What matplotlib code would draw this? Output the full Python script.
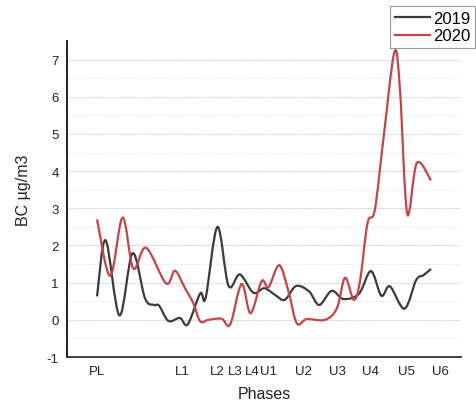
import numpy as np
import matplotlib.pyplot as plt
from matplotlib.path import Path
from matplotlib.patches import PathPatch
from matplotlib.lines import Line2D

plt.rcParams['font.family'] = ['Liberation Sans', 'DejaVu Sans']
plt.rcParams['axes.unicode_minus'] = False

# --- data (x = position along phases axis) ---
x2019 = [0, 2.5, 6.5, 10.3, 13.9, 16.5, 18, 20.7, 24, 26.3, 29.9, 31.5, 34.9,
         38.1, 41.4, 45.3, 48.5, 51.6, 54.4, 57.7, 61.5, 64.4, 68, 71.4, 75.9,
         79.4, 82.4, 84.9, 89.1, 92.5, 94.6, 96.8]
bc2019 = [0.63, 2.14, 0.12, 1.79, 0.58, 0.40, 0.38, -0.03, 0.05, -0.12, 0.71,
          0.60, 2.50, 0.92, 1.22, 0.73, 0.85, 0.67, 0.54, 0.91, 0.76, 0.40,
          0.78, 0.56, 0.70, 1.31, 0.65, 0.90, 0.30, 1.07, 1.20, 1.37]

x2020 = [0, 3.8, 7.4, 10.5, 14.2, 20.0, 22.6, 25.5, 27.9, 29.9, 32.3, 36.1,
         38.6, 41.9, 44.5, 47.7, 49.7, 52.8, 55.4, 57.9, 60.8, 66.1, 69.5,
         71.9, 74.4, 76.2, 78.4, 80.5, 83, 86.2, 87.8, 89.9, 92.7, 96.8]
bc2020 = [2.70, 1.18, 2.75, 1.38, 1.94, 0.98, 1.32, 0.85, 0.45, -0.04, 0.0,
          0.03, -0.12, 0.96, 0.18, 1.04, 0.88, 1.47, 0.80, -0.09, 0.02, 0.0,
          0.31, 1.13, 0.54, 1.03, 2.60, 2.95, 4.86, 7.20, 6.20, 2.86, 4.22, 3.75]

phase_pos = [0, 24.6, 34.8, 40, 45, 49.7, 59.7, 69.6, 79.3, 89.6, 99.4]
phase_lbl = ['PL', 'L1', 'L2', 'L3', 'L4', 'U1', 'U2', 'U3', 'U4', 'U5', 'U6']


#--- smoothed line through the points (bezier, like a spreadsheet "smooth line")
def smooth_path(xs, ys):
    p = np.column_stack([xs, ys]).astype(float)
    verts = [p[0]]
    codes = [Path.MOVETO]
    n = len(p)
    for i in range(n - 1):
        p0 = p[i - 1] if i > 0 else p[i]
        p1 = p[i]
        p2 = p[i + 1]
        p3 = p[i + 2] if i + 2 < n else p[i + 1]
        verts += [p1 + (p2 - p0) / 6.0, p2 - (p3 - p1) / 6.0, p2]
        codes += [Path.CURVE4] * 3
    return Path(verts, codes)


fig = plt.figure(figsize=(4.77, 4.10), dpi=100)
ax = fig.add_axes([0.1405, 0.1268, 0.826, 0.7708])

c19 = '#3b3b3b'
c20 = '#c9424a'
ax.add_patch(PathPatch(smooth_path(x2019, bc2019), fill=False, edgecolor=c19, lw=1.6, zorder=3))
ax.add_patch(PathPatch(smooth_path(x2020, bc2020), fill=False, edgecolor=c20, lw=1.6, zorder=3))

ax.set_xlim(-8.7, 105.5)
ax.set_ylim(-1, 7.5)

ax.set_yticks(range(-1, 8))
ax.set_yticks(np.arange(-0.5, 7.5, 1.0), minor=True)
ax.set_xticks(phase_pos)
ax.set_xticklabels(phase_lbl)
ax.tick_params(axis='both', length=0, labelsize=9.5, colors='#222222', pad=6)
ax.tick_params(axis='y', which='minor', length=0)

ax.grid(axis='y', which='major', linestyle=(0, (1.5, 1.5)), color='#c4c4c4', lw=0.7)
ax.grid(axis='y', which='minor', linestyle=(0, (1.5, 1.5)), color='#e6e6e6', lw=0.7)
ax.set_axisbelow(True)

for s in ['top', 'right']:
    ax.spines[s].set_visible(False)
ax.spines['left'].set_color('#111111')
ax.spines['left'].set_linewidth(1.3)
ax.spines['bottom'].set_color('#333333')
ax.spines['bottom'].set_linewidth(1.3)

ax.set_ylabel('BC µg/m3', fontsize=11.5, color='#222222')
ax.yaxis.set_label_coords(-0.092, 0.53)
ax.set_xlabel('Phases', fontsize=11.5, color='#222222', labelpad=6)

handles = [Line2D([], [], color=c19, lw=1.6), Line2D([], [], color=c20, lw=1.6)]
leg = fig.legend(handles, ['2019', '2020'], loc='upper right',
                 bbox_to_anchor=(0.996, 0.983), fontsize=12, handlelength=2.1,
                 handletextpad=0.2, borderpad=0.3, labelspacing=0.15,
                 fancybox=False, framealpha=1, borderaxespad=0)
leg.get_frame().set_edgecolor('#999999')
leg.get_frame().set_linewidth(0.8)

fig.savefig('out.png', dpi=100)
